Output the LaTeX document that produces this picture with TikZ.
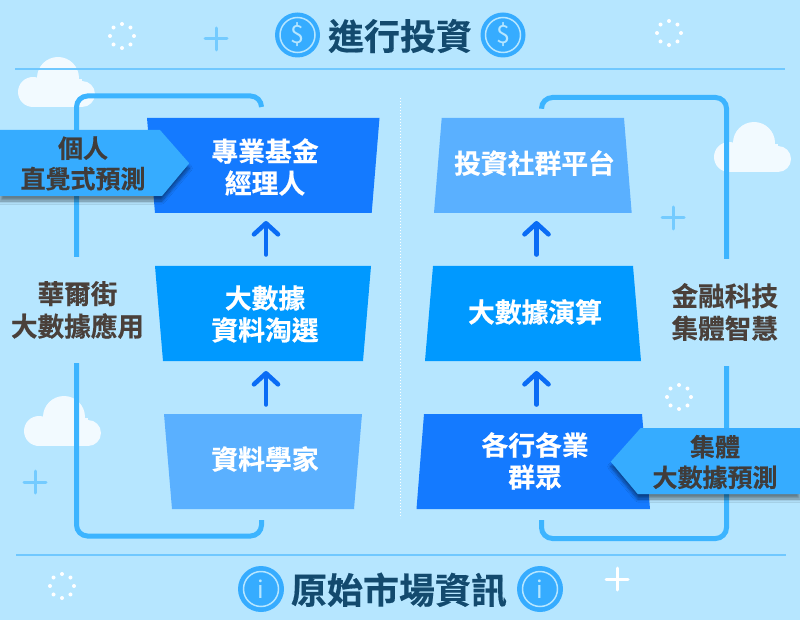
\documentclass[tikz,border=0pt]{standalone}
\usepackage{fontspec}
\usetikzlibrary{arrows.meta,shadows.blur,calc}
\setmainfont{Noto Sans CJK TC}[BoldFont={* Bold},BoldFeatures={FakeBold=0.4}]
\definecolor{bgc}{HTML}{B6E6FF}
\definecolor{linec}{HTML}{3CB4FF}
\definecolor{rulec}{HTML}{70C8FF}
\definecolor{darkbox}{HTML}{147AFF}
\definecolor{midbox}{HTML}{0099FF}
\definecolor{lightbox}{HTML}{5AB0FF}
\definecolor{tag}{HTML}{36ACFF}
\definecolor{titlec}{HTML}{134A6E}
\definecolor{tagtxt}{HTML}{403C3A}
\definecolor{arrowc}{HTML}{0A6CF5}
\definecolor{sidetxt}{HTML}{4A403A}
\definecolor{cloudc}{HTML}{F2FAFF}
\definecolor{plusc}{HTML}{74CBFF}
\tikzset{x=1pt,y=-1pt,
  boxtext/.style={font=\bfseries\fontsize{26.8}{32}\selectfont,text=white,align=center,inner sep=0pt},
  tagtext/.style={font=\bfseries\fontsize{25}{30.5}\selectfont,text=tagtxt,align=center,inner sep=0pt},
  sidetext/.style={font=\bfseries\fontsize{26.6}{32.5}\selectfont,text=sidetxt,align=center,inner sep=0pt},
  titletext/.style={font=\bfseries\fontsize{36}{36}\selectfont,text=titlec,inner sep=0pt},
  bracket/.style={draw=linec,line width=5pt,rounded corners=11pt},
  flow/.style={draw=arrowc,line width=4.6pt,line cap=round,line join=round,-{Straight Barb[length=11pt,width=24pt,line width=4.6pt,round]}},
  hrule/.style={draw=rulec,line width=1.3pt},
  plus/.style={draw=plusc,line width=3pt,line cap=round},
  tagshadow/.style={blur shadow={shadow xshift=0pt,shadow yshift=-5pt,shadow blur steps=8,shadow opacity=45,shadow blur radius=3pt}}
}
\newcommand{\dotring}[2]{\foreach \a in {0,45,...,315}{\fill[white] ($(#1,#2)+(\a:12)$) circle (2);}}
\newcommand{\cloudshape}[2]{\begin{scope}[shift={(#1,#2)}]
 \fill[cloudc] (15,35) circle (15);
 \fill[cloudc] (40,21) circle (21);
 \fill[cloudc] (64,37) circle (13);
 \fill[cloudc] (15,22) rectangle (64,50);
\end{scope}}
\begin{document}
\begin{tikzpicture}
\useasboundingbox (0,0) rectangle (800,620);
\fill[bgc] (0,0) rectangle (800,620);
\dotring{122}{36}\dotring{669}{33}\dotring{62}{586}\dotring{679}{397}
\draw[plus] (205,39) -- (227,39) (216,28) -- (216,50);
\draw[plus] (662,218) -- (684,218) (673,207) -- (673,229);
\draw[plus] (24,482) -- (46,482) (35,471) -- (35,493);
\draw[plus,draw=white] (606,579) -- (628,579) (617,568) -- (617,590);
\cloudshape{18}{57}\cloudshape{714}{122}\cloudshape{24}{396}
\draw[draw=white,dash pattern=on 1pt off 2pt,line width=.6pt] (400,98) -- (400,518);
\draw[hrule] (15,69) -- (785,69) (16,555) -- (786,555);
% brackets
\coordinate (lt) at (261.5,107); \coordinate (lb) at (261.5,520);
\coordinate (rt) at (541.5,107); \coordinate (rb) at (541.5,520);
\draw[bracket] (lt) -- (261.5,96) -- (76.5,96) -- (76.5,257);
\draw[bracket] (76.5,363) -- (76.5,536) -- (261.5,536) -- (lb);
\draw[bracket] (rt) -- (541.5,97.5) -- (726.5,97.5) -- (726.5,259);
\draw[bracket] (726.5,366) -- (726.5,538.5) -- (541.5,538.5) -- (rb);
% boxes
\fill[darkbox] (147,118) -- (379.5,118) -- (371.7,213) -- (155,213) -- cycle;
\fill[midbox] (155,266) -- (371,266) -- (363,361) -- (163,361) -- cycle;
\fill[lightbox] (164,414) -- (362,414) -- (354,509) -- (172,509) -- cycle;
\fill[lightbox] (441.7,118) -- (624,118) -- (631.7,213) -- (434,213) -- cycle;
\fill[midbox] (433,266) -- (633,266) -- (641,361) -- (425,361) -- cycle;
\fill[darkbox] (424,414) -- (642,414) -- (650,509) -- (416.5,509) -- cycle;
\node[boxtext] (b1) at (265,167) {專業基金\\經理人};
\node[boxtext] (b2) at (265,314) {大數據\\資料淘選};
\node[boxtext] (b3) at (265,459) {資料學家};
\node[boxtext] (b4) at (534.5,163) {投資社群平台};
\node[boxtext] (b5) at (535,312) {大數據演算};
\node[boxtext] (b6) at (535,461) {各行各業\\群眾};
\coordinate (a1s) at (266,254.5); \coordinate (a1e) at (266,221);
\coordinate (a2s) at (266,404.5); \coordinate (a2e) at (266,371);
\coordinate (a3s) at (536.5,254.5); \coordinate (a3e) at (536.5,221);
\coordinate (a4s) at (536.5,404.5); \coordinate (a4e) at (536.5,371);
\draw[flow] (a1s) -- (a1e); \draw[flow] (a2s) -- (a2e);
\draw[flow] (a3s) -- (a3e); \draw[flow] (a4s) -- (a4e);
% tags
\fill[tag,tagshadow] (0,130) -- (160,130) -- (189.3,163.3) -- (162,196) -- (0,196) -- cycle;
\fill[tag,tagshadow] (800,428) -- (640.7,428) -- (610.7,461.7) -- (637.7,494) -- (800,494) -- cycle;
\node[tagtext] (t1) at (83,163.5) {個人\\直覺式預測};
\node[tagtext] (t2) at (715,462) {集體\\大數據預測};
\node[sidetext] (s1) at (77.5,310) {華爾街\\大數據應用};
\node[sidetext] (s2) at (724.7,312) {金融科技\\集體智慧};
% titles
\node[titletext] (title1) at (400,36) {進行投資};
\node[titletext] (title2) at (399,590) {原始市場資訊};
\node[circle,fill=tag,minimum size=45pt,inner sep=0pt] (c1) at (297.5,35) {};
\node[circle,fill=tag,minimum size=45pt,inner sep=0pt] (c2) at (503,35) {};
\node[circle,fill=tag,minimum size=46pt,inner sep=0pt] (c3) at (261,589) {};
\node[circle,fill=tag,minimum size=46pt,inner sep=0pt] (c4) at (540,589) {};
\foreach \c in {c1,c2,c3,c4}{\draw[draw=bgc,line width=1.5pt] (\c) circle (17.5);}
\foreach \c in {c1,c2}{\node[font=\fontsize{25}{25}\selectfont,text=bgc,inner sep=0pt] at (\c) {\$};}
\foreach \c in {c3,c4}{\node[font=\fontsize{24}{24}\selectfont,text=bgc,inner sep=0pt] at (\c) {i};}
\end{tikzpicture}
\end{document}
